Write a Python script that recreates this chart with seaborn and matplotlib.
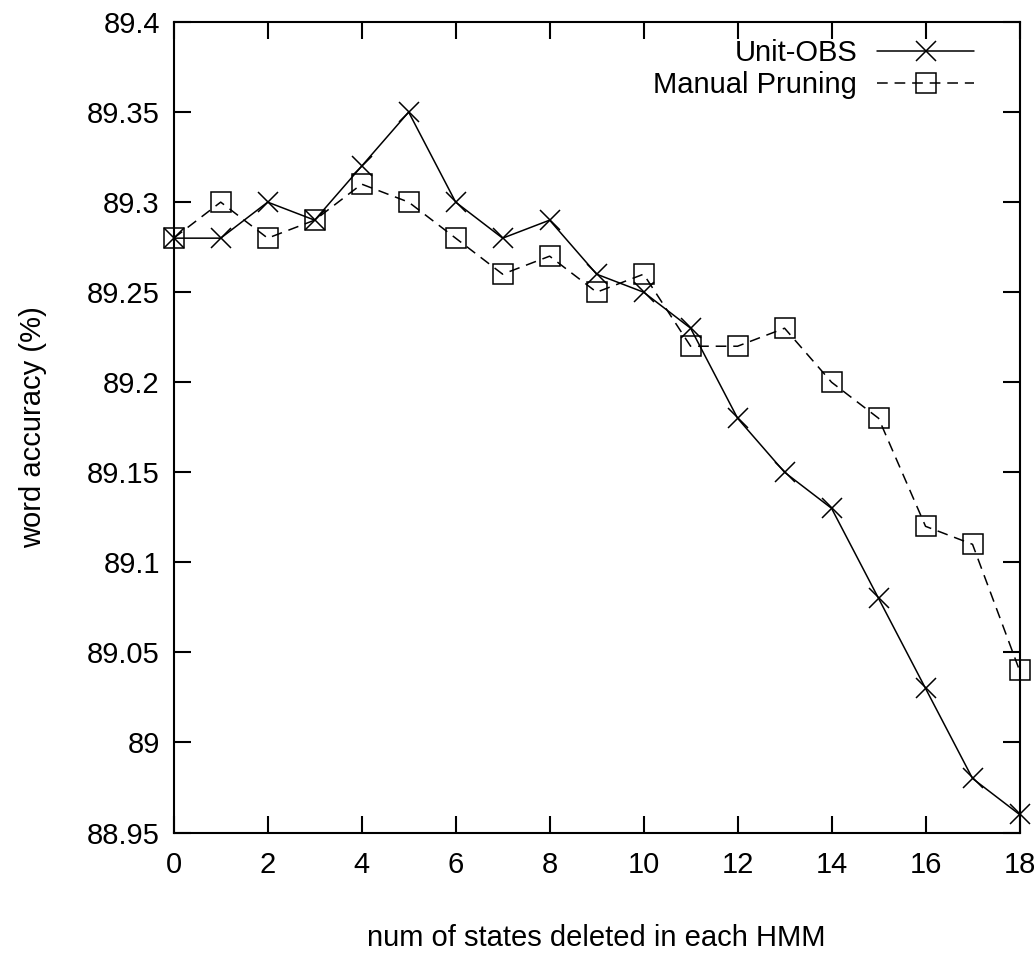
import matplotlib
matplotlib.use("Agg")
import matplotlib.pyplot as plt
import seaborn as sns

# data
states = list(range(19))
unit_obs = [89.28, 89.28, 89.30, 89.29, 89.32, 89.35, 89.30, 89.28, 89.29, 89.26,
            89.25, 89.23, 89.18, 89.15, 89.13, 89.08, 89.03, 88.98, 88.96]
manual = [89.28, 89.30, 89.28, 89.29, 89.31, 89.30, 89.28, 89.26, 89.27, 89.25,
          89.26, 89.22, 89.22, 89.23, 89.20, 89.18, 89.12, 89.11, 89.04]
x_ticks = list(range(0, 19, 2))
y_ticks = [88.95, 89.0, 89.05, 89.1, 89.15, 89.2, 89.25, 89.3, 89.35, 89.4]
y_labels = ["88.95", "89", "89.05", "89.1", "89.15", "89.2", "89.25", "89.3", "89.35", "89.4"]

sns.set_style("ticks")
plt.rcParams["font.family"] = ["Liberation Sans", "DejaVu Sans"]
plt.rcParams["text.color"] = "black"
plt.rcParams["xtick.color"] = "black"
plt.rcParams["ytick.color"] = "black"
plt.rcParams["axes.labelcolor"] = "black"
plt.rcParams["axes.edgecolor"] = "black"

fs = 21

fig, ax = plt.subplots(figsize=(10.34, 9.58), dpi=100)
sns.lineplot(x=states, y=unit_obs, color="black", linewidth=1.1,
             marker="x", markersize=14.5, markeredgewidth=1.1,
             markeredgecolor="black", ax=ax, label="Unit-OBS")
sns.lineplot(x=states, y=manual, color="black", linewidth=1.1,
             linestyle=(0, (7, 4.5)), marker="s", markersize=14.5,
             markeredgewidth=1.1, markerfacecolor="none",
             markeredgecolor="black", ax=ax, label="Manual Pruning")
for line in ax.lines:
    line.set_clip_on(False)

ax.set_xlim(0, 18)
ax.set_ylim(88.95, 89.4)
ax.set_xticks(x_ticks)
ax.set_yticks(y_ticks)
ax.set_yticklabels(y_labels)
ax.tick_params(direction="in", length=12, width=1.5, labelsize=fs,
               top=True, right=True, pad=10)
ax.tick_params(axis="x", pad=13)
for sp in ax.spines.values():
    sp.set_linewidth(1.5)
    sp.set_visible(True)
ax.set_xlabel("num of states deleted in each HMM", fontsize=fs, labelpad=33)
ax.set_ylabel("word accuracy (%)", fontsize=fs, labelpad=29)

# gnuplot-style legend: label on left, sample on right
ax.legend(loc="upper right", frameon=False, fontsize=fs, markerfirst=False,
          handlelength=3.3, handletextpad=0.7, labelspacing=0.12,
          borderaxespad=0.3, bbox_to_anchor=(0.97, 1.004))

fig.subplots_adjust(left=0.168, right=0.986, top=0.977, bottom=0.131)
fig.savefig("out.png", dpi=100)
